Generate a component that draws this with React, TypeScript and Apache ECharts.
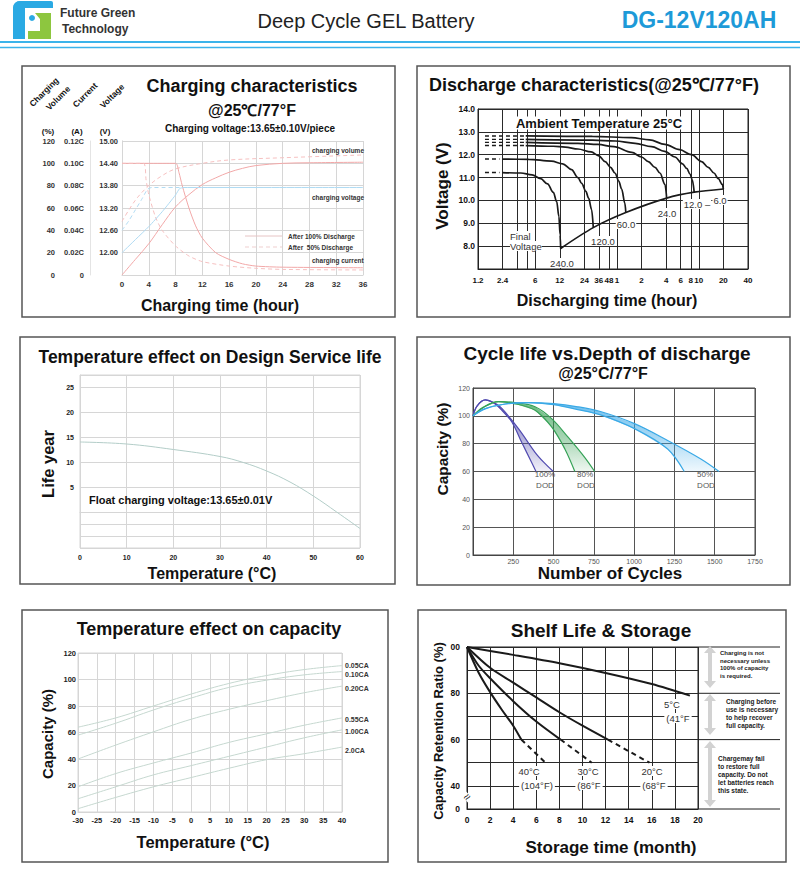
import React, { useEffect, useRef } from "react";
import * as echarts from "echarts";

const FONT = '"Liberation Sans", Arial, Helvetica, sans-serif';
const BLUE = "#2aa9e3";
const GREEN = "#8dc63f";

// ---------- Panel 1: Charging characteristics (x: hours) ----------
const volumeAfter100 = [[0, 0], [2, 14], [4, 28], [6, 45], [8, 61], [10, 72], [12, 81], [14, 87], [16, 92], [18, 95.5], [20, 98], [24, 100], [28, 100.5], [36, 101]];
const volumeAfter50 = [[0, 48], [2, 67], [4, 80], [6, 89], [8, 95], [12, 100], [16, 103], [24, 105], [36, 107.5]];
const currentAfter100 = [[0, 0.1], [8, 0.1], [8.5, 0.092], [9, 0.08], [10, 0.06], [11, 0.044], [12, 0.033], [14, 0.02], [16, 0.014], [18, 0.01], [20, 0.008], [24, 0.007], [36, 0.0065]];
const currentAfter50 = [[0, 0.1], [3.2, 0.1], [3.6, 0.085], [4, 0.072], [5, 0.052], [6, 0.04], [8, 0.026], [10, 0.017], [12, 0.012], [16, 0.008], [20, 0.006], [24, 0.005], [36, 0.0045]];
const voltageAfter100 = [[0, 12.0], [2, 12.35], [4, 12.7], [6, 13.1], [8, 13.55], [8.6, 13.72], [9.2, 13.75], [36, 13.75]];
const voltageAfter50 = [[0, 12.6], [1, 12.85], [2, 13.15], [3, 13.45], [3.8, 13.7], [4.4, 13.75], [36, 13.75]];

// ---------- Panel 2: Discharge characteristics (x: minutes, log) ----------
const dischargeGridMinutes = [1.2, 2.4, 3.6, 4.8, 6, 12, 24, 36, 48, 60, 120, 240, 360, 480, 600, 1200, 2400];
const dischargeLabelMinutes = [1.2, 2.4, 6, 12, 24, 36, 48, 60, 120, 240, 360, 480, 600, 1200, 2400];
const dischargeLabelTexts = ["1.2", "2.4", "6", "12", "24", "36", "48", "1", "2", "4", "6", "8", "10", "20", "40"];
const dis6A = [[4.6, 12.82], [30, 12.8], [90, 12.75], [150, 12.65], [232, 12.45], [350, 12.22], [489, 12.0], [650, 11.7], [783, 11.45], [920, 11.2], [1040, 10.95], [1164, 10.7], [1200, 10.5]];
const dis12A = [[4.6, 12.67], [30, 12.64], [57, 12.6], [100, 12.5], [159, 12.35], [230, 12.15], [307, 11.9], [380, 11.6], [427, 11.4], [470, 11.15], [500, 10.9], [528, 10.36]];
const dis24A = [[4.6, 12.54], [20, 12.5], [35, 12.45], [55, 12.35], [91, 12.1], [120, 11.9], [145, 11.7], [175, 11.45], [201, 11.2], [232, 10.7], [243, 10.1]];
const dis60A = [[4.6, 12.4], [10, 12.37], [14, 12.33], [20, 12.25], [29, 12.12], [36, 11.95], [43, 11.7], [50, 11.45], [57, 11.19], [63, 10.85], [68.5, 10.5], [75, 9.87], [77, 9.47]];
const dis120A = [[2.38, 11.81], [5, 11.8], [9.5, 11.72], [13, 11.6], [16.7, 11.35], [20, 11.0], [22.2, 10.75], [25, 10.4], [27, 10.1], [29.4, 9.6], [30.8, 8.81]];
const dis240A = [[2.38, 11.22], [4, 11.2], [5.5, 11.12], [7, 10.95], [8.5, 10.72], [10, 10.35], [11, 9.95], [11.7, 9.3], [12.1, 8.5], [12.3, 7.9]];
const disLead = [
  [[1.46, 12.82], [4.6, 12.82]],
  [[1.46, 12.67], [4.6, 12.67]],
  [[1.46, 12.54], [4.6, 12.54]],
  [[1.46, 12.4], [4.6, 12.4]],
  [[1.46, 11.81], [2.2, 11.81]],
  [[1.46, 11.22], [2.2, 11.22]],
];
const finalVoltage = [[12.3, 7.9], [30.8, 8.81], [77, 9.47], [243, 10.1], [528, 10.36], [1200, 10.5]];

// ---------- Panel 3: Temperature vs design life ----------
const lifeYears = [[0, 14], [10, 13.6], [20, 12.5], [30, 11.1], [35, 9.9], [40, 8.2], [45, 6], [50, 3.2], [55, 0], [60, -3.3]];

// ---------- Panel 4: Cycle life vs DOD ----------
const dod100Inner = [[0, 100], [25, 107], [76, 111.4], [130, 109], [179, 104], [241, 95.6], [302, 81], [364, 66.5], [391, 60]];
const dod100Outer = [[0, 100], [25, 107], [76, 111.4], [130, 109.5], [179, 105.3], [282, 90.8], [385, 73.8], [440, 66.5], [498, 60]];
const dod80Inner = [[0, 100], [60, 106], [158, 110.2], [250, 109], [385, 104], [488, 92], [570, 76.2], [632, 60]];
const dod80Outer = [[0, 100], [80, 107], [158, 110.2], [260, 109.5], [385, 106.5], [488, 98], [590, 84.7], [693, 70.2], [755, 60]];
const dod50Inner = [[0, 100], [76, 105], [200, 108.5], [344, 109.5], [500, 108], [650, 104.5], [796, 100.5], [1002, 90.8], [1208, 76.2], [1311, 60]];
const dod50Outer = [[0, 100], [76, 105.3], [200, 108.5], [344, 109.5], [500, 108.8], [650, 106.5], [796, 102.9], [1002, 94.4], [1208, 82.3], [1414, 69], [1527, 60]];

// ---------- Panel 5: Temperature vs capacity ----------
const capTemps = [-30, -20, -10, 0, 10, 20, 30, 40];
const cap005 = [64, 71, 80, 89, 97, 103, 107.5, 110.5];
const cap010 = [58, 67, 77, 86, 94, 99.5, 103.5, 106];
const cap020 = [40, 50.5, 60.5, 70, 77.5, 84, 90, 95];
const cap055 = [19, 29, 37, 44.5, 52.5, 59, 65.5, 71];
const cap100 = [10, 19, 28, 35, 42, 49, 56, 62];
const cap200 = [2.5, 11, 19, 26, 33, 39.5, 44, 49];
const capNames = ["0.05CA", "0.10CA", "0.20CA", "0.55CA", "1.00CA", "2.0CA"];

// ---------- Panel 6: Shelf life (x: months) ----------
const ret5C = [[0, 100], [4, 96.6], [8, 93], [12, 88.8], [16, 84], [19.3, 79]];
const ret20C = [[0, 100], [2, 91], [4, 84.6], [6, 78.2], [8, 71.8], [10, 66], [12.2, 60]];
const ret20CDash = [[12.2, 60], [15.8, 50]];
const ret30C = [[0, 100], [1, 92], [2, 86.5], [4, 76.6], [6, 67.8], [8.1, 60]];
const ret30CDash = [[8.1, 60], [10.8, 50]];
const ret40C = [[0, 100], [1, 89], [2, 80.5], [3, 73], [4, 66], [4.7, 60]];
const ret40CDash = [[4.7, 60], [6.8, 50]];
const shelfYLabels: Record<number, string> = { 100: "00", 80: "80", 60: "60", 40: "40", 30: "0" };

const lg = (v: number) => Math.log10(v);
const toLog = (pts: number[][]) => pts.map(([t, v]) => [lg(t), v]);
const zip = (xs: number[], ys: number[]) => xs.map((x, i) => [x, ys[i]]);

function lab(size: number, color = "#222", weight: any = "bold") {
  return { fontSize: size, color, fontWeight: weight, fontFamily: FONT };
}

function line(xi: number, yi: number, data: any[], color: string, width: number, type: any = "solid", smooth: any = 0.35) {
  return {
    type: "line", xAxisIndex: xi, yAxisIndex: yi, data, symbol: "none", smooth,
    lineStyle: { color, width, type }, silent: true, z: 3,
  };
}

function band(xi: number, yi: number, a: number[][], b: number[][], rgb: string) {
  const pts = [...a, ...[...b].reverse()];
  return {
    type: "custom", xAxisIndex: xi, yAxisIndex: yi, data: [[0, 0]], silent: true, z: 2,
    renderItem: (_p: any, api: any) => ({
      type: "polygon",
      shape: { points: pts.map((p) => api.coord(p)) },
      style: {
        fill: new echarts.graphic.LinearGradient(0, 0, 0, 1, [
          { offset: 0, color: `rgba(${rgb},0.75)` },
          { offset: 0.5, color: `rgba(${rgb},0.45)` },
          { offset: 1, color: `rgba(${rgb},0.08)` },
        ]),
        stroke: "none",
      },
    }),
  };
}

function T(text: string, x: number, y: number, size: number, o: any = {}) {
  return {
    type: "text", x, y, rotation: o.rot || 0, z: 100, silent: true,
    style: {
      text, x: 0, y: 0,
      font: `${o.weight || "bold"} ${size}px ${FONT}`,
      fill: o.color || "#111",
      textAlign: o.align || "center",
      textVerticalAlign: "middle",
      backgroundColor: o.bg,
      padding: o.pad,
    },
  };
}

function box(x: number, y: number, w: number, h: number) {
  return { type: "rect", z: 1, silent: true, shape: { x, y, width: w, height: h }, style: { fill: "none", stroke: "#555", lineWidth: 1.5 } };
}

function hline(x1: number, x2: number, y: number, color: string, w: number) {
  return { type: "line", z: 1, silent: true, shape: { x1, y1: y, x2, y2: y }, style: { stroke: color, lineWidth: w } };
}

function dblArrow(x: number, y1: number, y2: number) {
  return {
    type: "polygon", z: 5, silent: true,
    shape: {
      points: [[x, y1], [x + 6, y1 + 7], [x + 2, y1 + 7], [x + 2, y2 - 7], [x + 6, y2 - 7], [x, y2], [x - 6, y2 - 7], [x - 2, y2 - 7], [x - 2, y1 + 7], [x - 6, y1 + 7]],
    },
    style: { fill: "#d2d2d2" },
  };
}

function buildOption(): any {
  const lightGrid = { show: true, lineStyle: { color: "#d6d6d6", width: 1 } };
  const darkGrid = { show: true, lineStyle: { color: "#2a2a2a", width: 1 } };
  const noTick = { show: false };

  const grids = [
    { left: 122, top: 141, width: 241, height: 134 },
    { left: 478, top: 109, width: 270, height: 160, show: true, borderColor: "#222", borderWidth: 1 },
    { left: 80, top: 375, width: 280, height: 173, show: true, borderColor: "#d6d6d6", borderWidth: 1 },
    { left: 473, top: 388, width: 282, height: 167, show: true, borderColor: "#444", borderWidth: 1 },
    { left: 78, top: 653, width: 264, height: 159, show: true, borderColor: "#d6d6d6", borderWidth: 1 },
    { left: 467, top: 647, width: 231, height: 162, show: true, borderColor: "#222", borderWidth: 1 },
  ].map((g) => ({ ...g, containLabel: false, outerBoundsMode: "none" }));

  const xAxis = [
    { gridIndex: 0, type: "value", min: 0, max: 36, interval: 4, axisLine: { show: true, lineStyle: { color: "#d6d6d6" } }, axisTick: noTick, splitLine: lightGrid, axisLabel: { ...lab(8, "#333"), margin: 5 } },
    {
      gridIndex: 1, type: "value", min: lg(1.2), max: lg(2400),
      axisLine: { show: true, lineStyle: { color: "#222" } },
      axisTick: { show: false, customValues: dischargeGridMinutes.map(lg) },
      splitLine: darkGrid,
      axisLabel: {
        ...lab(8, "#111"), margin: 7,
        customValues: dischargeLabelMinutes.map(lg),
        formatter: (v: number) => {
          const i = dischargeLabelMinutes.findIndex((m) => Math.abs(lg(m) - v) < 1e-6);
          return i >= 0 ? dischargeLabelTexts[i] : "";
        },
      },
    },
    { gridIndex: 2, type: "value", min: 0, max: 60, interval: 10, axisLine: { show: true, lineStyle: { color: "#d6d6d6" } }, axisTick: noTick, splitLine: lightGrid, axisLabel: { ...lab(7, "#222"), margin: 6 } },
    { gridIndex: 3, type: "value", min: 0, max: 1750, interval: 250, axisLine: { show: true, lineStyle: { color: "#444" } }, axisTick: noTick, splitLine: { show: true, lineStyle: { color: "#555" } }, axisLabel: { ...lab(7, "#555", "normal"), margin: 3, formatter: (v: number) => (v === 0 ? "" : String(v)) } },
    { gridIndex: 4, type: "value", min: -30, max: 40, interval: 5, axisLine: { show: true, lineStyle: { color: "#d6d6d6" } }, axisTick: noTick, splitLine: lightGrid, axisLabel: { ...lab(7.5, "#222"), margin: 4 } },
    { gridIndex: 5, type: "value", min: 0, max: 20, interval: 2, axisLine: { show: true, lineStyle: { color: "#222" } }, axisTick: noTick, splitLine: darkGrid, axisLabel: { ...lab(8.5, "#111"), margin: 6 } },
  ];

  const yAxis = [
    // 0: P1 charging volume %
    { gridIndex: 0, type: "value", min: 0, max: 120, interval: 20, position: "left", offset: 63, axisLine: { show: true, lineStyle: { color: "#e4e4e4" } }, axisTick: noTick, splitLine: lightGrid, axisLabel: { ...lab(7.5, "#333"), margin: 4 } },
    // 1: P1 current
    { gridIndex: 0, type: "value", min: 0, max: 0.12, interval: 0.02, position: "left", offset: 32, axisLine: { show: true, lineStyle: { color: "#e4e4e4" } }, axisTick: noTick, splitLine: { show: false }, axisLabel: { ...lab(7.5, "#333"), margin: 6, formatter: (v: number) => (v === 0 ? "0" : v.toFixed(2) + "C") } },
    // 2: P1 voltage
    { gridIndex: 0, type: "value", min: 11.4, max: 15, interval: 0.6, position: "left", offset: 0, axisLine: { show: true, lineStyle: { color: "#d6d6d6" } }, axisTick: noTick, splitLine: { show: false }, axisLabel: { ...lab(7.5, "#333"), margin: 4, formatter: (v: number) => (v < 11.5 ? "" : v.toFixed(2)) } },
    // 3: P2 voltage
    { gridIndex: 1, type: "value", min: 7, max: 14, interval: 1, axisLine: { show: true, lineStyle: { color: "#222" } }, axisTick: noTick, splitLine: darkGrid, axisLabel: { ...lab(8.5, "#111"), margin: 3, formatter: (v: number) => (v < 7.5 ? "" : v.toFixed(1)) } },
    // 4: P3 life years
    {
      gridIndex: 2, type: "value", min: -7.2, max: 27.4,
      axisLine: { show: true, lineStyle: { color: "#d6d6d6" } },
      axisTick: { show: false, customValues: [-7.2, -4.8, -2.4, 0, 5, 10, 15, 20, 25, 27.4] },
      splitLine: lightGrid,
      axisLabel: { ...lab(7, "#222"), margin: 6, customValues: [5, 10, 15, 20, 25] },
    },
    // 5: P4 capacity
    { gridIndex: 3, type: "value", min: 0, max: 120, interval: 20, axisLine: { show: true, lineStyle: { color: "#444" } }, axisTick: noTick, splitLine: { show: true, lineStyle: { color: "#555" } }, axisLabel: { ...lab(7, "#555", "normal"), margin: 3 } },
    // 6: P5 capacity
    { gridIndex: 4, type: "value", min: 0, max: 120, interval: 20, axisLine: { show: true, lineStyle: { color: "#d6d6d6" } }, axisTick: noTick, splitLine: lightGrid, axisLabel: { ...lab(7.5, "#222"), margin: 2 } },
    // 7: P6 retention
    { gridIndex: 5, type: "value", min: 30, max: 100, interval: 10, axisLine: { show: true, lineStyle: { color: "#222" } }, axisTick: noTick, splitLine: darkGrid, axisLabel: { ...lab(8.5, "#111"), margin: 7, formatter: (v: number) => shelfYLabels[Math.round(v)] || "" } },
  ];

  const RED = "#f2a8a8";
  const PINK = "#f6c0c0";
  const LBLUE = "#b0dbf3";
  const BLK = "#1a1a1a";

  const series: any[] = [
    // P1
    line(0, 0, volumeAfter100, RED, 1),
    line(0, 0, volumeAfter50, PINK, 1, [4, 3]),
    line(0, 1, currentAfter100, RED, 1, "solid", 0.25),
    line(0, 1, currentAfter50, PINK, 1, [4, 3], 0.25),
    line(0, 2, voltageAfter100, LBLUE, 1, "solid", 0.2),
    line(0, 2, voltageAfter50, LBLUE, 1, [4, 3], 0.2),
    // P2
    ...[dis6A, dis12A, dis24A, dis60A, dis120A, dis240A].map((d) => ({ ...line(1, 3, toLog(d), BLK, 1.7, "solid", 0.35), smoothMonotone: "x" })),
    ...disLead.map((d) => line(1, 3, toLog(d), BLK, 1.4, [4, 3], 0)),
    line(1, 3, toLog(finalVoltage), BLK, 1.7, "solid", 0.3),
    // P3
    line(2, 4, lifeYears, "#b3cdc8", 1, "solid", 0.4),
    // P4 bands + outlines
    band(3, 5, dod100Inner, dod100Outer, "80,74,172"),
    band(3, 5, dod80Inner, dod80Outer, "52,160,82"),
    band(3, 5, dod50Inner, dod50Outer, "62,170,232"),
    line(3, 5, dod100Inner, "#514bb0", 1.2, "solid", 0.35),
    line(3, 5, dod100Outer, "#514bb0", 1.2, "solid", 0.35),
    line(3, 5, dod80Inner, "#36a257", 1.2, "solid", 0.35),
    line(3, 5, dod80Outer, "#36a257", 1.2, "solid", 0.35),
    line(3, 5, dod50Inner, "#3aa9e6", 1.2, "solid", 0.35),
    line(3, 5, dod50Outer, "#3aa9e6", 1.2, "solid", 0.35),
    // P5
    ...[cap005, cap010, cap020, cap055, cap100, cap200].map((c) => line(4, 6, zip(capTemps, c), "#c6d8d0", 1, "solid", 0.4)),
    // P6
    line(5, 7, ret5C, BLK, 2, "solid", 0.3),
    line(5, 7, ret20C, BLK, 2, "solid", 0.3),
    line(5, 7, ret30C, BLK, 2, "solid", 0.3),
    line(5, 7, ret40C, BLK, 2, "solid", 0.3),
    line(5, 7, ret20CDash, BLK, 2, [5, 4], 0),
    line(5, 7, ret30CDash, BLK, 2, [5, 4], 0),
    line(5, 7, ret40CDash, BLK, 2, [5, 4], 0),
  ];

  const W = "#fff";
  const elements: any[] = [
    // header logo
    { type: "rect", silent: true, shape: { x: 13, y: 1, width: 12, height: 38, r: [7, 0, 0, 0] }, style: { fill: BLUE } },
    { type: "rect", silent: true, shape: { x: 13, y: 1, width: 40, height: 7, r: [7, 2, 0, 0] }, style: { fill: BLUE } },
    { type: "circle", silent: true, shape: { cx: 32, cy: 18, r: 3 }, style: { fill: BLUE } },
    { type: "polygon", silent: true, shape: { points: [[35, 13], [51, 13], [51, 39], [28, 39], [28, 31], [40, 31], [40, 19]] }, style: { fill: GREEN } },
    T("Future Green", 60, 13, 12, { align: "left", color: "#333" }),
    T("Technology", 62, 29, 12, { align: "left", color: "#333" }),
    T("Deep Cycle GEL Battery", 366, 21, 20, { weight: "normal", color: "#222" }),
    T("DG-12V120AH", 699, 20, 23, { color: "#1d9ad8" }),
    hline(0, 800, 42, "#3ab3ea", 2),
    hline(0, 800, 47.5, "#3ab3ea", 1.5),

    // panel borders
    box(22, 66, 373, 251),
    box(417, 66, 373, 251),
    box(20, 337, 375, 247),
    box(417, 337, 373, 248),
    box(22, 610, 366, 252),
    box(418, 610, 368, 252),

    // P1 texts
    T("Charging characteristics", 252, 86, 18),
    T("@25℃/77°F", 252, 110, 16),
    T("Charging voltage:13.65±0.10V/piece", 250, 128, 10),
    T("Charging", 44, 92, 8.5, { rot: Math.PI / 4 }),
    T("Volume", 58, 98, 8.5, { rot: Math.PI / 4 }),
    T("Current", 85, 95, 8.5, { rot: Math.PI / 4 }),
    T("Voltage", 112, 96, 8.5, { rot: Math.PI / 4 }),
    T("(%)", 48, 131, 8),
    T("(A)", 77, 131, 8),
    T("(V)", 105, 131, 8),
    T("charging volume", 312, 150, 6.5, { align: "left", color: "#333" }),
    T("charging voltage", 312, 197, 6.5, { align: "left", color: "#333" }),
    T("charging current", 312, 260, 6.5, { align: "left", color: "#333" }),
    { type: "line", silent: true, z: 50, shape: { x1: 245, y1: 236, x2: 282, y2: 236 }, style: { stroke: "#e6c4c4", lineWidth: 1 } },
    { type: "line", silent: true, z: 50, shape: { x1: 245, y1: 247, x2: 282, y2: 247 }, style: { stroke: "#efcfcf", lineWidth: 1, lineDash: [4, 3] } },
    T("After 100% Discharge", 288, 236, 6.5, { align: "left", color: "#333" }),
    T("After  50% Discharge", 288, 247, 6.5, { align: "left", color: "#333" }),
    T("Charging time (hour)", 220, 305, 16),

    // P2 texts
    T("Discharge characteristics(@25℃/77°F)", 594, 85, 18),
    T("Ambient Temperature 25°C", 599, 123, 13, { bg: W, pad: [0, 1] }),
    T("Final", 510, 236, 9.5, { align: "left", weight: "normal", color: "#333", bg: W }),
    T("Voltage", 510, 246, 9.5, { align: "left", weight: "normal", color: "#333", bg: W }),
    T("240.0", 562, 263, 9.5, { weight: "normal", color: "#333", bg: W, pad: [0, 1] }),
    T("120.0", 603, 241, 9.5, { weight: "normal", color: "#333", bg: W, pad: [0, 1] }),
    T("60.0", 626, 224, 9.5, { weight: "normal", color: "#333", bg: W, pad: [0, 1] }),
    T("24.0", 667, 213, 9.5, { weight: "normal", color: "#333", bg: W, pad: [0, 1] }),
    T("12.0 –", 697, 204, 9.5, { weight: "normal", color: "#333", bg: W, pad: [0, 1] }),
    T("6.0", 720, 200, 9.5, { weight: "normal", color: "#333", bg: W, pad: [0, 1] }),
    T("Voltage (V)", 442, 186, 17, { rot: Math.PI / 2 }),
    T("Discharging time (hour)", 607, 300, 16),

    // P3 texts
    T("Temperature effect on Design Service life", 210, 357, 17.5),
    T("Float charging voltage:13.65±0.01V", 89, 500, 11, { align: "left" }),
    T("Life year", 48, 464, 16.5, { rot: Math.PI / 2 }),
    T("Temperature (°C)", 212, 573, 16),

    // P4 texts
    T("Cycle life vs.Depth of discharge", 607, 353, 19),
    T("@25°C/77°F", 603, 373, 16),
    T("100%", 545, 474, 8, { weight: "normal", color: "#555" }),
    T("DOD", 545, 485, 8, { weight: "normal", color: "#555" }),
    T("80%", 585, 474, 8, { weight: "normal", color: "#555" }),
    T("DOD", 586, 485, 8, { weight: "normal", color: "#555" }),
    T("50%", 705, 474, 8, { weight: "normal", color: "#555" }),
    T("DOD", 706, 485, 8, { weight: "normal", color: "#555" }),
    T("Capacity (%)", 442, 449, 15.5, { rot: Math.PI / 2 }),
    T("Number of Cycles", 610, 573, 17),

    // P5 texts
    T("Temperature effect on capacity", 209, 629, 18),
    ...capNames.map((n, i) => T(n, 345, [665, 674, 688, 719, 731, 750][i], 7, { align: "left", color: "#333" })),
    T("Capacity (%)", 47, 734, 15, { rot: Math.PI / 2 }),
    T("Temperature (°C)", 203, 842, 16.5),

    // P6 texts
    T("Shelf Life & Storage", 601, 630, 19),
    hline(698, 780, 647, "#222", 1),
    hline(698, 780, 693.3, "#222", 1),
    hline(698, 780, 739.6, "#222", 1),
    hline(698, 780, 809, "#222", 1),
    T("5°C", 672, 704, 9.5, { weight: "normal", color: "#333", bg: W, pad: [0, 2] }),
    T("(41°F", 678, 718, 9.5, { weight: "normal", color: "#333", bg: W, pad: [0, 2] }),
    T("40°C", 529, 771, 9.5, { weight: "normal", color: "#333", bg: W, pad: [0, 2] }),
    T("(104°F)", 537, 785, 9.5, { weight: "normal", color: "#333", bg: W, pad: [0, 2] }),
    T("30°C", 588, 771, 9.5, { weight: "normal", color: "#333", bg: W, pad: [0, 2] }),
    T("(86°F", 589, 785, 9.5, { weight: "normal", color: "#333", bg: W, pad: [0, 2] }),
    T("20°C", 652, 771, 9.5, { weight: "normal", color: "#333", bg: W, pad: [0, 2] }),
    T("(68°F", 654, 785, 9.5, { weight: "normal", color: "#333", bg: W, pad: [0, 2] }),
    dblArrow(710, 646, 688),
    dblArrow(710, 694, 735),
    dblArrow(710, 741, 807),
    ...["Charging is not", "necessary unless", "100% of capacity", "is required."].map((s, i) => T(s, 720, 653 + i * 7.5, 6, { align: "left", color: "#222" })),
    ...["Charging before", "use is necessary", "to help recover", "full capacity."].map((s, i) => T(s, 726, 701.5 + i * 8, 6.5, { align: "left", color: "#222" })),
    ...["Chargemay fail", "to restore full", "capacity. Do not", "let batteries reach", "this state."].map((s, i) => T(s, 718, 758 + i * 8, 6.5, { align: "left", color: "#222" })),
    T("≈", 467, 797, 12, { rot: Math.PI / 4, weight: "normal", color: "#222", bg: W }),
    T("Capacity Retention Ratio (%)", 438, 731, 13, { rot: Math.PI / 2 }),
    T("Storage time (month)", 611, 847, 17),
  ];

  return {
    animation: false,
    backgroundColor: "#fff",
    textStyle: { fontFamily: FONT },
    tooltip: { show: false },
    grid: grids,
    xAxis,
    yAxis,
    series,
    graphic: { elements },
  };
}

export default function App() {
  const ref = useRef<HTMLDivElement>(null);
  useEffect(() => {
    if (!ref.current) return;
    const chart = echarts.init(ref.current, null, { renderer: "svg", width: 800, height: 888 });
    chart.setOption(buildOption());
    return () => chart.dispose();
  }, []);
  return (
    <div style={{ position: "absolute", left: 0, top: 0, width: 800, height: 888, background: "#fff" }}>
      <div ref={ref} style={{ width: 800, height: 888 }} />
    </div>
  );
}
